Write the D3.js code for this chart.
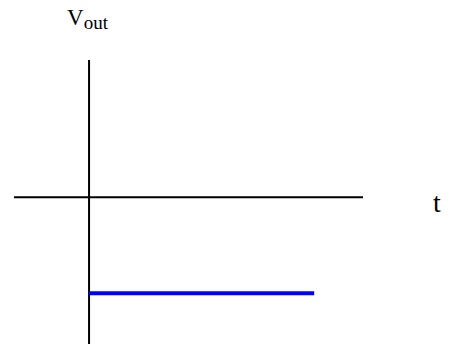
<!DOCTYPE html>
<html><head><meta charset="utf-8">
<script src="https://cdn.jsdelivr.net/npm/d3@7"></script>
<style>body{margin:0;background:#fff}svg{display:block}text{font-family:'Liberation Serif','DejaVu Serif',serif}</style>
</head><body>
<script>
const tRange = [-1, 3.65];      // extent of the time axis
const vRange = [-1.53, 1.43];   // extent of the vout axis
const stepT = [0, 3];           // output segment start/end time
const stepV = [-1, -1];         // output level
const yLabel = ["V", "out"];
const xLabel = "t";

const W = 455, H = 345;
const svg = d3.select("body").append("svg").attr("width", W).attr("height", H);
const x = d3.scaleLinear().domain(tRange).range([14, 363]);
const y = d3.scaleLinear().domain(vRange).range([344, 60]);

svg.append("line").attr("x1", x(tRange[0])).attr("x2", x(tRange[1]))
  .attr("y1", y(0)).attr("y2", y(0)).attr("stroke", "#000").attr("stroke-width", 2);
svg.append("line").attr("x1", x(0)).attr("x2", x(0))
  .attr("y1", y(vRange[0])).attr("y2", y(vRange[1])).attr("stroke", "#000").attr("stroke-width", 2);

svg.append("path").datum(stepT.map((t, i) => [t, stepV[i]]))
  .attr("d", d3.line().x(d => x(d[0])).y(d => y(d[1])))
  .attr("stroke", "#0000ff").attr("stroke-width", 4).attr("fill", "none");

const lab = svg.append("text").attr("x", 67).attr("y", 25)
  .attr("font-size", 23).attr("fill", "#000");
lab.append("tspan").text(yLabel[0]);
lab.append("tspan").attr("dy", 4).attr("font-size", 19).text(yLabel[1]);

svg.append("text").attr("x", 433).attr("y", 212)
  .attr("font-size", 28).attr("fill", "#000").text(xLabel);
</script>
</body></html>
